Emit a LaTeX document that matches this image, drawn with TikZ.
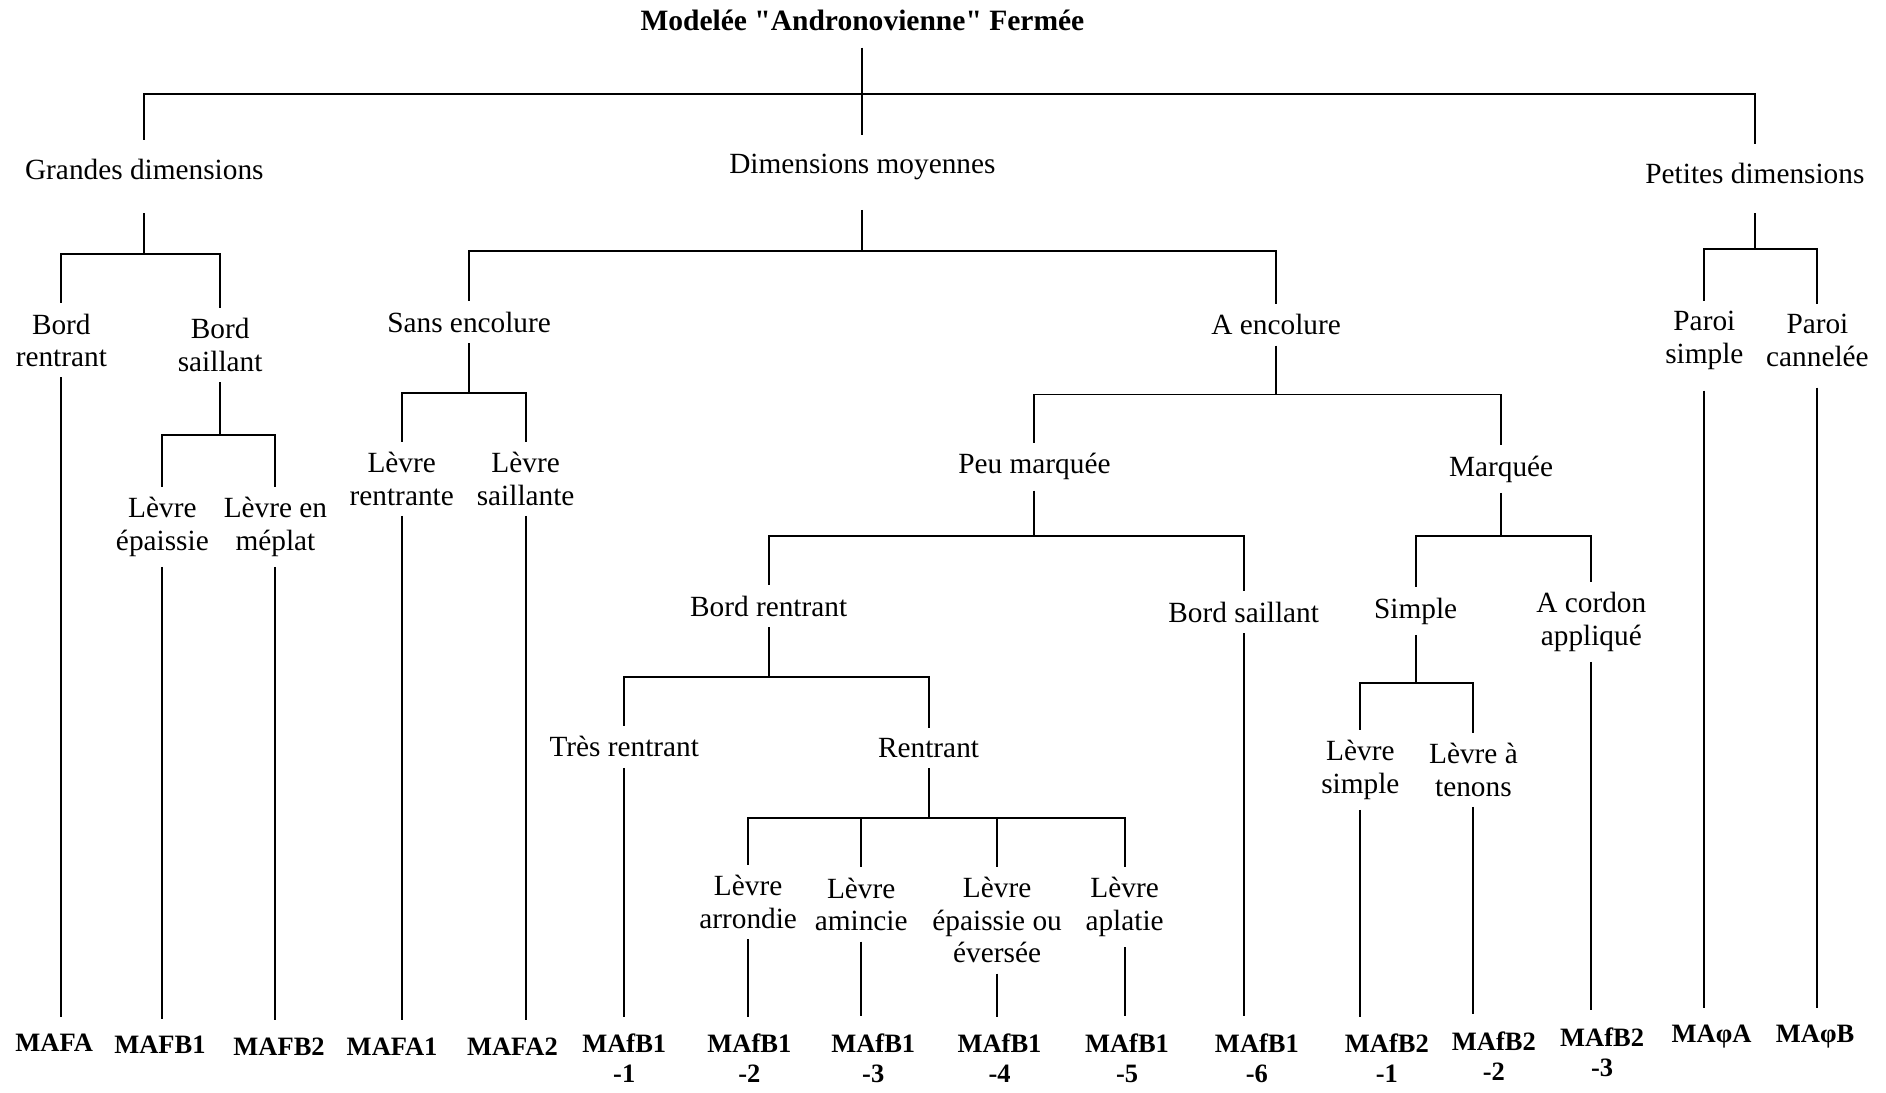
\documentclass[tikz,border=0pt]{standalone}
\usepackage{fontspec}
\setmainfont{Liberation Serif}

\begin{document}
\begin{tikzpicture}[
    x=0.12028mm, y=-0.12028mm,
    title/.style={font=\fontsize{8.4}{9.3}\selectfont\bfseries, inner sep=0pt, outer sep=4.8pt},
    cat/.style={font=\fontsize{8.34}{9.25}\selectfont, align=center, inner sep=0pt, outer sep=5.5pt},
    sub/.style={font=\fontsize{8.34}{9.25}\selectfont, align=center, inner sep=0pt, outer sep=3pt},
    code/.style={font=\fontsize{7.54}{8.55}\selectfont\bfseries, align=center, inner sep=0pt, outer sep=5pt},
    link/.style={line width=0.55pt},
]
\useasboundingbox (0,0) rectangle (1568,908);

% Title
\node[title] (root) at (717,17) {Modelée \textquotedbl Andronovienne\textquotedbl{} Fermée};

% --- Level 1 ---
\node[cat] (gd) at (120,141) {Grandes dimensions};
\node[cat] (dm) at (717,139) {Dimensions moyennes};
\node[cat] (pd) at (1459,144) {Petites dimensions};
\draw[link] (root) -- (dm);
\draw[link] (gd) -- (gd |- 0,78) -| (pd);

% --- Grandes dimensions ---
\node[sub] (br1) at (51,283) {Bord\\rentrant};
\node[sub] (bs1) at (183,287) {Bord\\saillant};
\node[sub] (le1) at (135,438) {Lèvre\\épaissie};
\node[sub] (lm1) at (229,438) {Lèvre en\\méplat};
\draw[link, shorten <=4pt] (gd) -- (gd |- 0,211) -| (br1);
\draw[link] (gd |- 0,211) -| (bs1);
\draw[link] (bs1) -- (bs1 |- 0,362) -| (le1);
\draw[link] (bs1 |- 0,362) -| (lm1);

% --- Dimensions moyennes ---
\node[sub] (se) at (390,268) {Sans encolure};
\node[sub] (ae) at (1061,270) {A encolure};
\draw[link, shorten <=3pt] (dm) -- (dm |- 0,209) -| (se);
\draw[link] (dm |- 0,209) -| (ae);

\node[sub] (lr) at (334,398) {Lèvre\\rentrante};
\node[sub] (ls) at (437,398) {Lèvre\\saillante};
\draw[link] (se) -- (se |- 0,327) -| (lr);
\draw[link] (se |- 0,327) -| (ls);

\node[sub] (pm) at (860,388) {Peu marquée};
\node[sub] (mq) at (1248,390) {Marquée};
\draw[link] (ae) -- (ae |- 0,328) -| (pm);
\draw[link] (ae |- 0,328) -| (mq);

\node[sub] (brr) at (639,504) {Bord rentrant};
\node[sub] (bsl) at (1034,509) {Bord saillant};
\draw[link] (pm) -- (pm |- 0,446) -| (brr);
\draw[link] (pm |- 0,446) -| (bsl);

\node[sub] (tr) at (519,621) {Très rentrant};
\node[sub] (re) at (772,622) {Rentrant};
\draw[link] (brr) -- (brr |- 0,563) -| (tr);
\draw[link] (brr |- 0,563) -| (re);

\node[sub] (la) at (622,750) {Lèvre\\arrondie};
\node[sub] (lam) at (716,752) {Lèvre\\amincie};
\node[sub] (lep) at (829,765) {Lèvre\\épaissie ou\\éversée};
\node[sub] (lap) at (935,754) {Lèvre\\aplatie};
\draw[link] (re) -- (re |- 0,680) -| (la);
\draw[link] (re |- 0,680) -| (lam);
\draw[link] (re |- 0,680) -| (lep);
\draw[link] (re |- 0,680) -| (lap);

\node[sub] (sim) at (1177,508) {Simple};
\node[sub] (ac) at (1323,517) {A cordon\\appliqué};
\draw[link] (mq) -- (mq |- 0,446) -| (sim);
\draw[link] (mq |- 0,446) -| (ac);

\node[sub] (lsi) at (1131,640) {Lèvre\\simple};
\node[sub] (lt) at (1225,640) {Lèvre à\\tenons};
\draw[link] (sim) -- (sim |- 0,568) -| (lsi);
\draw[link] (sim |- 0,568) -| (lt);

% --- Petites dimensions ---
\node[sub] (ps) at (1417,283) {Paroi\\simple};
\node[sub] (pc) at (1511,283) {Paroi\\cannelée};
\draw[link, shorten <=3pt] (pd) -- (pd |- 0,207) -| (ps);
\draw[link] (pd |- 0,207) -| (pc);

% --- Codes ---
\node[code] (mafa) at (45,867) {MAFA};
\node[code] (mafb1) at (133,869) {MAFB1};
\node[code] (mafb2) at (232,870) {MAFB2};
\node[code] (mafa1) at (326,870) {MAFA1};
\node[code] (mafa2) at (426,870) {MAFA2};
\node[code] (mafb1-1) at (519,880) {MAfB1\\-1};
\node[code] (mafb1-2) at (623,880) {MAfB1\\-2};
\node[code] (mafb1-3) at (726,880) {MAfB1\\-3};
\node[code] (mafb1-4) at (831,880) {MAfB1\\-4};
\node[code] (mafb1-5) at (937,880) {MAfB1\\-5};
\node[code] (mafb1-6) at (1045,880) {MAfB1\\-6};
\node[code] (mafb2-1) at (1153,880) {MAfB2\\-1};
\node[code] (mafb2-2) at (1242,878) {MAfB2\\-2};
\node[code] (mafb2-3) at (1332,875) {MAfB2\\-3};
\node[code] (maphia) at (1423,862) {MAφA};
\node[code] (maphib) at (1509,862) {MAφB};

% leaves
\draw[link] (br1) -- (br1 |- mafa.north);
\draw[link] (le1) -- (le1 |- mafb1.north);
\draw[link] (lm1) -- (lm1 |- mafb2.north);
\draw[link] (lr) -- (lr |- mafa1.north);
\draw[link] (ls) -- (ls |- mafa2.north);
\draw[link] (tr) -- (tr |- mafb1-1.north);
\draw[link] (la) -- (la |- mafb1-2.north);
\draw[link] (lam) -- (lam |- mafb1-3.north);
\draw[link] (lep) -- (lep |- mafb1-4.north);
\draw[link] (lap) -- (lap |- mafb1-5.north);
\draw[link] (bsl) -- (bsl |- mafb1-6.north);
\draw[link] (lsi) -- (lsi |- mafb2-1.north);
\draw[link] (lt) -- (lt |- mafb2-2.north);
\draw[link] (ac) -- (ac |- mafb2-3.north);
\draw[link, shorten <=3pt] (ps) -- (ps |- maphia.north);
\draw[link, shorten <=3pt] (pc) -- (pc |- maphib.north);

\end{tikzpicture}
\end{document}
